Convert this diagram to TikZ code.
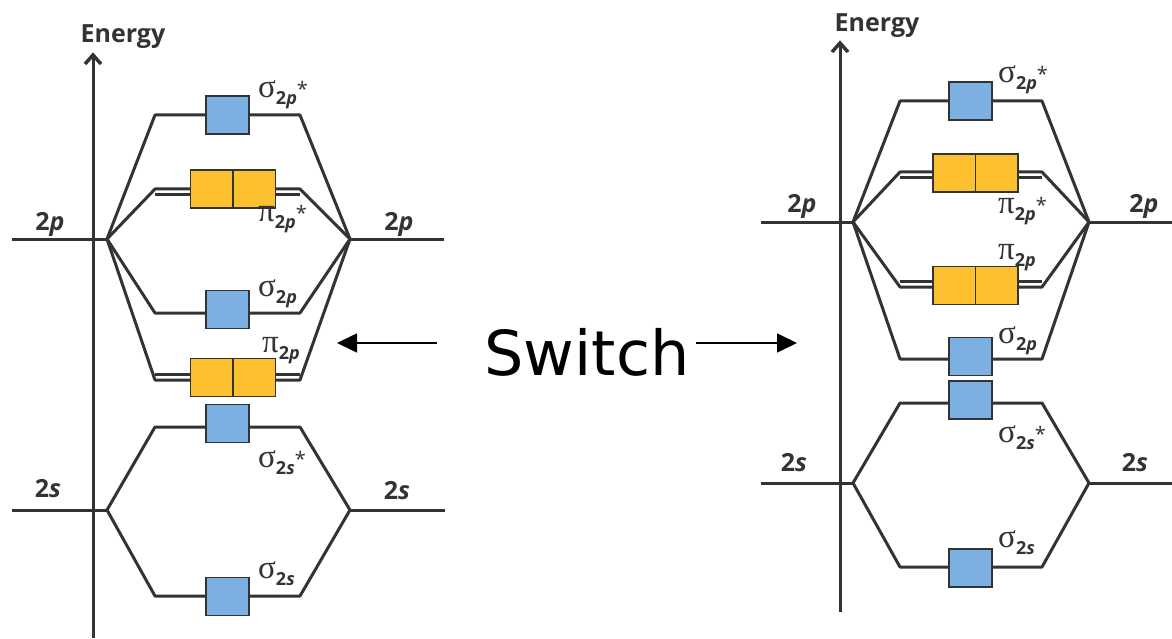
\documentclass[tikz,border=0pt]{standalone}
\usepackage{fontspec}
\setmainfont{Open Sans}
\newfontfamily\grkfont{Liberation Serif}
\newfontfamily\handfont{DejaVu Sans}
\usetikzlibrary{arrows.meta,positioning}

\definecolor{lineGray}{HTML}{333333}
\definecolor{sigmaBlue}{HTML}{7CB0E2}
\definecolor{piYellow}{HTML}{FDC12F}

% orbital label: greek letter, subscript 2s/2p, optional star
\newcommand{\orbLabel}[3]{{\grkfont\fontsize{33}{33}\selectfont #1}\raisebox{-7pt}{\bfseries\fontsize{18}{18}\selectfont 2\textit{#2}}\raisebox{1pt}{\fontsize{20}{20}\selectfont #3}}

\begin{document}
\begin{tikzpicture}[
    x=1pt, y=-1pt,
    % Define the style for the energy levels
    levelStyle/.style={
        draw=lineGray,
        line width=3pt,
        line join=round
    },
    % Define the style for the energy axis
    axisStyle/.style={
        draw=lineGray,
        line width=3pt
    },
    headStyle/.style={
        draw=lineGray,
        line width=3.5pt,
        line join=miter
    },
    % Define the style for the orbital boxes
    sigmaBox/.style={
        rectangle,
        draw=lineGray,
        fill=sigmaBlue,
        line width=1.5pt,
        outer sep=0pt,
        inner sep=0pt,
        minimum width=43pt,
        minimum height=38pt
    },
    piBox/.style={
        sigmaBox,
        fill=piYellow,
        minimum width=42.5pt
    },
    % Define the style for the labels
    orbText/.style={
        anchor=base west,
        inner sep=0pt,
        text=lineGray
    },
    levelText/.style={
        anchor=base,
        inner sep=0pt,
        text=lineGray,
        font=\bfseries\fontsize{25}{25}\selectfont
    },
    axisText/.style={
        anchor=base,
        inner sep=0pt,
        text=lineGray,
        font=\bfseries\fontsize{25}{25}\selectfont
    },
    switchArrow/.style={
        draw=black,
        line width=1.6pt,
        -{Triangle[length=20pt,width=19pt]}
    }
]
    \useasboundingbox (0,0) rectangle (1172,639);

    % --- LEFT DIAGRAM ---
    \coordinate (Lv2p) at (107,239);
    \coordinate (Rv2p) at (350,239);
    \coordinate (Lv2s) at (107,510);
    \coordinate (Rv2s) at (350,510);

    % Axis
    \coordinate (axA0) at (93,638);
    \coordinate (axA1) at (93,55);
    \draw[axisStyle] (axA0) -- (axA1);
    \draw[headStyle] (85,64) -- (axA1) -- (101,64);
    \node[axisText] (enA) at (123,43) {Energy};

    % Atomic levels
    \draw[levelStyle] (12,239) -- (Lv2p);
    \draw[levelStyle] (Rv2p) -- (444,239);
    \draw[levelStyle] (12,510) -- (Lv2s);
    \draw[levelStyle] (Rv2s) -- (445,510);

    % Sigma levels
    \foreach \y/\v in {115/2p, 313/2p, 427/2s, 596/2s} {
        \draw[levelStyle] (Lv\v) -- (155,\y) -- (300,\y) -- (Rv\v);
    }

    % Pi levels (outer line joins the vertices)
    \foreach \y/\yy in {189/195, 380/374} {
        \draw[levelStyle] (Lv2p) -- (155,\y) -- (300,\y) -- (Rv2p);
        \draw[levelStyle] (155,\yy) -- (300,\yy);
    }

    % Boxes
    \foreach \n/\y in {a/115, b/309.5, c/423.5, d/596.5} {
        \node[sigmaBox] (Ls\n) at (227.5,\y) {};
    }
    \foreach \n/\y in {a/189, b/377.5} {
        \node[piBox] (Lp\n1) at (211.75,\y) {};
        \node[piBox, right=0pt of Lp\n1] (Lp\n2) {};
    }

    % Labels
    \node[levelText] (LpL) at (50,230) {2\textit{p}};
    \node[levelText] (LpR) at (399,230) {2\textit{p}};
    \node[levelText] (LsL) at (48,497) {2\textit{s}};
    \node[levelText] (LsR) at (397,499) {2\textit{s}};
    \node[orbText] (Lt1) at (258,98) {\orbLabel{σ}{p}{*}};
    \node[orbText] (Lt2) at (258,222) {\orbLabel{π}{p}{*}};
    \node[orbText] (Lt3) at (258,296) {\orbLabel{σ}{p}{}};
    \node[orbText] (Lt4) at (262,352) {\orbLabel{π}{p}{}};
    \node[orbText] (Lt5) at (258,467) {\orbLabel{σ}{s}{*}};
    \node[orbText] (Lt6) at (258,578) {\orbLabel{σ}{s}{}};

    % --- SWITCH ---
    \node[anchor=base, inner sep=0pt, font=\handfont\fontsize{62}{62}\selectfont] (sw) at (587,375) {Switch};
    \coordinate (swL0) at (437,343);
    \coordinate (swL1) at (337,343);
    \coordinate (swR0) at (696,343);
    \coordinate (swR1) at (797,343);
    \draw[switchArrow] (swL0) -- (swL1);
    \draw[switchArrow] (swR0) -- (swR1);

    % --- RIGHT DIAGRAM ---
    \coordinate (Lw2p) at (853,222);
    \coordinate (Rw2p) at (1089,222);
    \coordinate (Lw2s) at (853,483);
    \coordinate (Rw2s) at (1089,483);

    % Axis
    \coordinate (axB0) at (840,612);
    \coordinate (axB1) at (840,43);
    \draw[axisStyle] (axB0) -- (axB1);
    \draw[headStyle] (832,52) -- (axB1) -- (848,52);
    \node[axisText] (enB) at (877,32) {Energy};

    % Atomic levels
    \draw[levelStyle] (761,222) -- (Lw2p);
    \draw[levelStyle] (Rw2p) -- (1172,222);
    \draw[levelStyle] (761,483) -- (Lw2s);
    \draw[levelStyle] (Rw2s) -- (1172,483);

    % Sigma levels
    \foreach \y/\v in {101/2p, 359/2p, 403/2s, 567/2s} {
        \draw[levelStyle] (Lw\v) -- (900,\y) -- (1042,\y) -- (Rw\v);
    }

    % Pi levels
    \foreach \y/\yy in {172/178, 287/281} {
        \draw[levelStyle] (Lw2p) -- (900,\y) -- (1042,\y) -- (Rw2p);
        \draw[levelStyle] (900,\yy) -- (1042,\yy);
    }

    % Boxes
    \foreach \n/\y in {a/101, b/356.5, c/400, d/568} {
        \node[sigmaBox] (Rs\n) at (970.5,\y) {};
    }
    \foreach \n/\y in {a/173, b/285.5} {
        \node[piBox] (Rp\n1) at (954.25,\y) {};
        \node[piBox, right=0pt of Rp\n1] (Rp\n2) {};
    }

    % Labels
    \node[levelText] (RpL) at (802,212) {2\textit{p}};
    \node[levelText] (RpR) at (1144,212) {2\textit{p}};
    \node[levelText] (RsL) at (794,471) {2\textit{s}};
    \node[levelText] (RsR) at (1135,471) {2\textit{s}};
    \node[orbText] (Rt1) at (998,83) {\orbLabel{σ}{p}{*}};
    \node[orbText] (Rt2) at (998,213) {\orbLabel{π}{p}{*}};
    \node[orbText] (Rt3) at (998,259) {\orbLabel{π}{p}{}};
    \node[orbText] (Rt4) at (998,343) {\orbLabel{σ}{p}{}};
    \node[orbText] (Rt5) at (998,442) {\orbLabel{σ}{s}{*}};
    \node[orbText] (Rt6) at (998,547) {\orbLabel{σ}{s}{}};

\end{tikzpicture}
\end{document}
